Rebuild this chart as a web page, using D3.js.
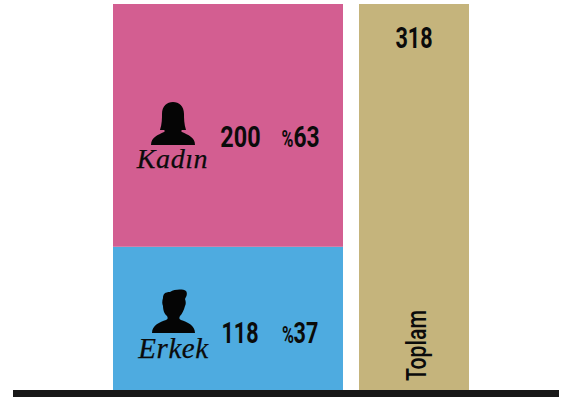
<!DOCTYPE html>
<html>
<head>
	<meta charset="utf-8">
	<script src="https://cdn.jsdelivr.net/npm/d3@7"></script>
	<style>
		html, body { margin: 0; padding: 0; background: #fff; }
		svg { display: block; }
		.num { font-family: Roboto, sans-serif; font-weight: 700; fill: #0b0b0b; }
		.name { font-family: "Liberation Serif", serif; font-style: italic; fill: #0b0b0b; stroke: #0b0b0b; stroke-width: 0.25px; }
	</style>
</head>
<body>
<script>
	var categories = ['Erkek', 'Kadın'];
	var values = [118, 200];
	var percents = ['37', '63'];
	var colors = ['#4eabe0', '#d35e91'];
	var totalLabel = 'Toplam';
	var totalValue = 318;
	var totalColor = '#c5b47c';
	var columns = ['genders', 'total'];

	var svgWidth = 561;
	var svgHeight = 397;

	var svg = d3.select('body').append('svg')
		.attr('width', svgWidth)
		.attr('height', svgHeight);

	var yScale = d3.scaleLinear().domain([0, totalValue]).range([390, 4]);
	var xLeft = d3.scaleOrdinal().domain(columns).range([113, 359]);
	var widths = d3.scaleOrdinal().domain(columns).range([230, 110]);

	// stacked column
	var stack = d3.stack().keys(categories)([
		{ Erkek: values[0], 'Kadın': values[1] }
	]);

	svg.selectAll('rect.part')
		.data(stack)
		.enter().append('rect')
		.attr('class', 'part')
		.attr('x', xLeft('genders'))
		.attr('width', widths('genders'))
		.attr('y', function (d) { return yScale(d[0][1]); })
		.attr('height', function (d) { return yScale(d[0][0]) - yScale(d[0][1]); })
		.attr('fill', function (d, i) { return colors[i]; });

	// total column
	svg.append('rect')
		.attr('x', xLeft('total'))
		.attr('width', widths('total'))
		.attr('y', yScale(totalValue))
		.attr('height', yScale(0) - yScale(totalValue))
		.attr('fill', totalColor);

	// base line
	svg.append('rect')
		.attr('x', 13).attr('y', yScale(0))
		.attr('width', 546).attr('height', 7)
		.attr('fill', '#181818');

	// the numbers are a condensed face, so squeeze Roboto sideways
	function condensed(x, y, txt, size, sx) {
		return svg.append('text')
			.attr('class', 'num')
			.attr('text-anchor', 'middle')
			.attr('transform', 'translate(' + x + ',' + y + ') scale(' + sx + ',1)')
			.style('font-size', size + 'px')
			.text(txt);
	}

	// icons, 44x44 box
	var womanPath = 'M0 43 C0 35 7 33 13 30 C14 29 14 29 13 28 L9 28 C11 22 11 16 11 12 C11 4 16 0 22 0 C28 0 33 4 33 12 C33 16 33 22 35 28 L31 28 C30 29 30 29 31 30 C37 33 44 35 44 43 Z';
	var manPath = 'M0 44 C0 36 8 33 14 31 C16 30 16 29 15 27 C12 25 11 20 11 17 C10 15 10 12 11 9 C11 5 13 3 18 3 C23 0 31 0 34 2 C36 5 34 8 33 10 C34 13 34 15 33 17 C32 21 30 25 28 27 C27 29 27 30 29 31 C35 33 43 36 43 44 Z';

	svg.append('path').attr('d', womanPath)
		.attr('transform', 'translate(151,102)').attr('fill', '#050505');
	svg.append('path').attr('d', manPath)
		.attr('transform', 'translate(152,289)').attr('fill', '#050505');

	// labels
	svg.append('text').attr('class', 'name')
		.attr('x', 172.5).attr('y', 168).attr('text-anchor', 'middle')
		.style('font-size', '28px').style('letter-spacing', '0.6px')
		.text(categories[1]);
	svg.append('text').attr('class', 'name')
		.attr('x', 173.5).attr('y', 358).attr('text-anchor', 'middle')
		.style('font-size', '29px').style('letter-spacing', '0.6px')
		.text(categories[0]);

	condensed(240.5, 147, String(values[1]), 30, 0.78);
	condensed(240, 343, String(values[0]), 30, 0.72);

	condensed(287.5, 147, '%', 23, 0.7);
	condensed(306.5, 147, percents[1], 30, 0.76);
	condensed(288, 343, '%', 23, 0.7);
	condensed(306, 343, percents[0], 30, 0.72);

	condensed(414, 48, String(totalValue), 30, 0.72);

	// vertical label
	svg.append('text')
		.attr('class', 'num')
		.attr('text-anchor', 'middle')
		.attr('transform', 'translate(426,345.5) rotate(-90) scale(0.76,1)')
		.style('font-size', '28px')
		.style('font-weight', 500)
		.text(totalLabel);
</script>
</body>
</html>
